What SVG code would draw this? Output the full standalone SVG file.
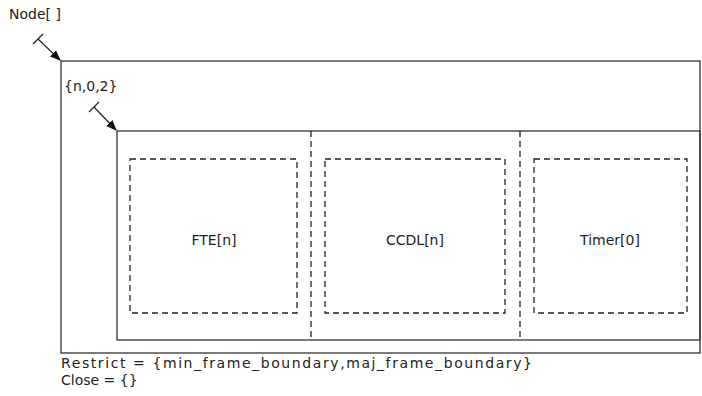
<svg xmlns="http://www.w3.org/2000/svg" width="702" height="396" viewBox="0 0 702 396">
<defs>
<style>
.t{font-family:"DejaVu Sans","Liberation Sans",sans-serif;font-size:14px;fill:#222}
.solid{fill:none;stroke:#333;stroke-width:1.3}
.dash{fill:none;stroke:#222;stroke-width:1.3;stroke-dasharray:6,4}
.arr{stroke:#222;stroke-width:1.2;fill:none}
</style>
<marker id="ah" viewBox="0 0 10 10" refX="9" refY="5" markerWidth="9" markerHeight="9" orient="auto"><path d="M0,1 L10,5 L0,9 z" fill="#111"/></marker>
</defs>
<rect width="702" height="396" fill="#fff"/>
<g id="node">
<rect class="solid" x="61" y="61" width="639" height="292"/>
<text class="t" x="9" y="19">Node[ ]</text>
<text class="t" x="64" y="91">{n,0,2}</text>
<text class="t" x="61" y="368" textLength="471" lengthAdjust="spacing">Restrict = {min_frame_boundary,maj_frame_boundary}</text>
<text class="t" x="61" y="385">Close = {}</text>
</g>
<g id="group">
<rect class="solid" x="117" y="131" width="583" height="209"/>
<line class="dash" x1="311" y1="131" x2="311" y2="340"/>
<line class="dash" x1="520" y1="131" x2="520" y2="340"/>
</g>
<g id="fte">
<rect class="dash" x="130" y="159" width="167" height="154"/>
<text class="t" x="214" y="245" text-anchor="middle">FTE[n]</text>
</g>
<g id="ccdl">
<rect class="dash" x="325" y="159" width="180" height="154"/>
<text class="t" x="415" y="245" text-anchor="middle">CCDL[n]</text>
</g>
<g id="timer">
<rect class="dash" x="534" y="159" width="153" height="154"/>
<text class="t" x="610" y="245" text-anchor="middle">Timer[0]</text>
</g>
<g id="connectors">
<line class="arr" x1="38" y1="39" x2="60" y2="60" marker-end="url(#ah)"/>
<line class="arr" x1="33" y1="44" x2="43" y2="34"/>
<line class="arr" x1="94" y1="107" x2="116" y2="130" marker-end="url(#ah)"/>
<line class="arr" x1="89" y1="112" x2="99" y2="102"/>
</g>
</svg>
